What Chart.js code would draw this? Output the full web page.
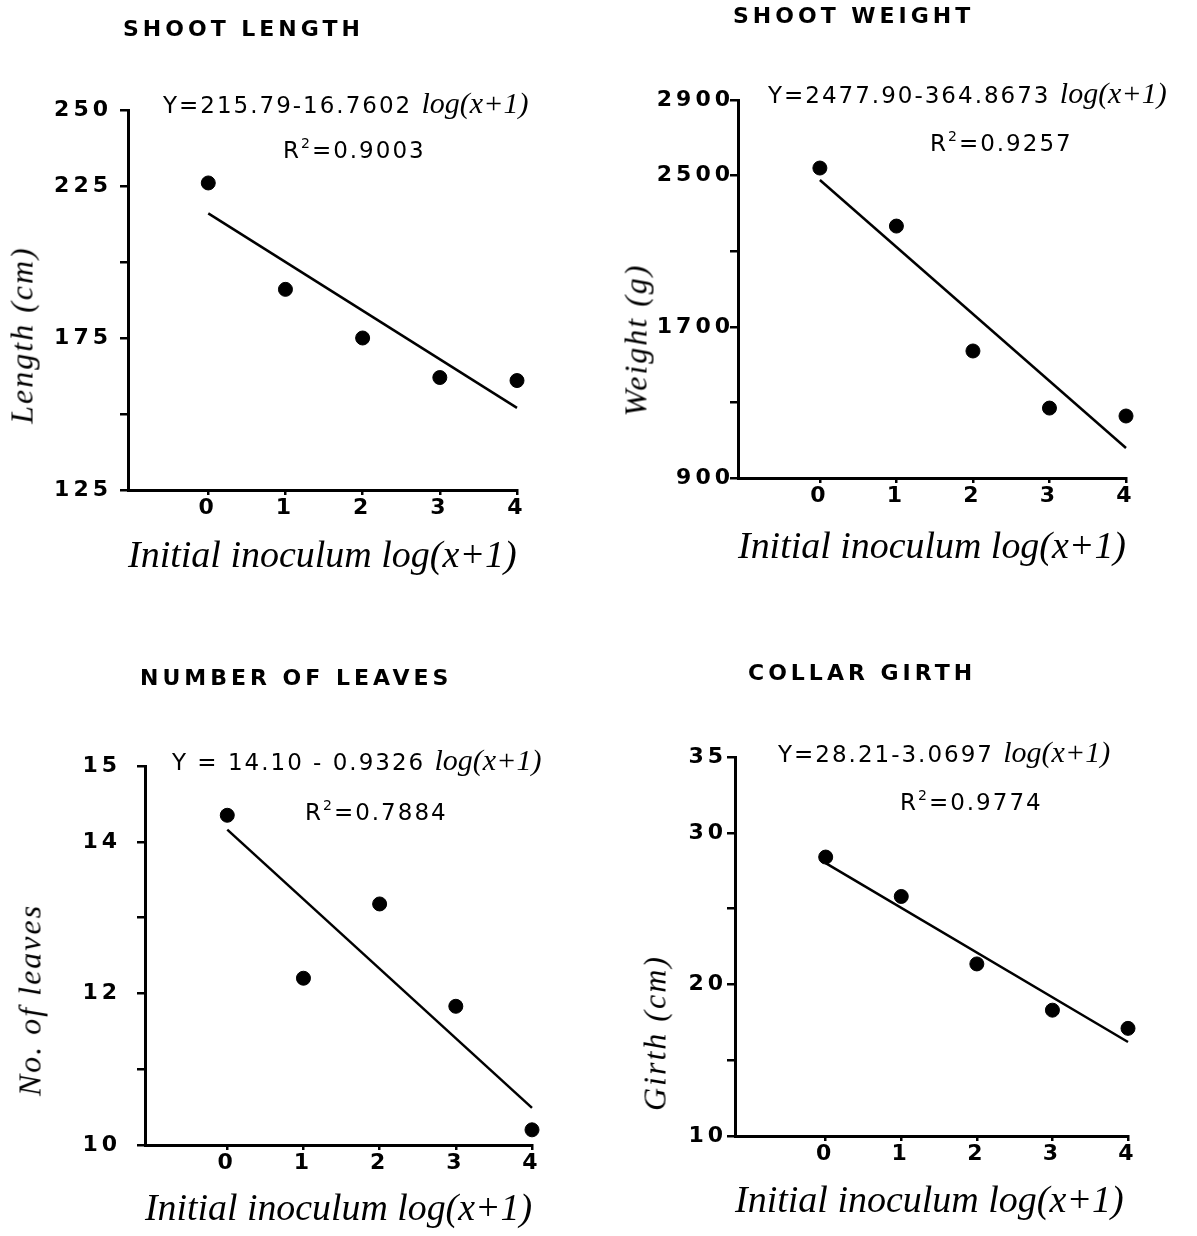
<!DOCTYPE html>
<html>
<head>
<meta charset="utf-8">
<script src="https://cdn.jsdelivr.net/npm/chart.js@4.4.1/dist/chart.umd.min.js"></script>
<style>
html, body { margin: 0; padding: 0; background: #fff; }
#page { position: relative; width: 1197px; height: 1236px; overflow: hidden; }
#page canvas { position: absolute; }
.txt { position: absolute; white-space: nowrap; color: #000; line-height: 1; transform: translateY(-50%); z-index: 2; }
.ttl { font: bold 22px "DejaVu Sans"; letter-spacing: 4px; }
.eq, .r2 { font: 23px "DejaVu Sans"; letter-spacing: 2px; }
.eq i { font: italic 30px "Liberation Serif"; letter-spacing: 0; }
.r2 sup { font-size: 14px; vertical-align: 10px; line-height: 0; }
.ylab { font: italic 32px "Liberation Serif"; letter-spacing: 2px; transform: translate(-50%, -50%) rotate(-90deg); }
</style>
</head>
<body>
<div id="page"></div>
<script>
// --- DATA ---
const xValues = [0, 1, 2, 3, 4];
const fitX = [0, 4];

const lengthValues = [226, 191, 175, 162, 161];
const lengthFit = [216, 152];
const lengthTicks = [125, 175, 225, 250];

const weightValues = [2540, 2233, 1572, 1270, 1228];
const weightFit = [2477, 1059];
const weightTicks = [900, 1700, 2500, 2900];

const leavesValues = [14.35, 12.2, 13.18, 11.83, 10.2];
const leavesFit = [14.16, 10.49];
const leavesTicks = [10, 12, 14, 15];

const girthValues = [28.4, 25.8, 21.35, 18.3, 17.1];
const girthFit = [28.0, 16.2];
const girthTicks = [10, 20, 30, 35];

const titles = ['SHOOT LENGTH', 'SHOOT WEIGHT', 'NUMBER OF LEAVES', 'COLLAR GIRTH'];
const equations = ['Y=215.79-16.7602', 'Y=2477.90-364.8673', 'Y = 14.10 - 0.9326', 'Y=28.21-3.0697'];
const r2Values = ['0.9003', '0.9257', '0.7884', '0.9774'];
const yTitles = ['Length (cm)', 'Weight (g)', 'No. of leaves', 'Girth (cm)'];
const xTitle = 'Initial inoculum log(x+1)';

// --- LAYOUT per panel (page pixels) ---
const panels = [
  { box: [0, 0, 598, 612], area: [128, 110, 517, 490], xMin: -1.04, y: [125, 250, 25],
    values: lengthValues, fit: lengthFit, ticks: lengthTicks, labelGap: 20,
    title: [123, 28], eq: [163, 103], r2: [283, 150], ylab: [22, 335], xTitleY: 557 },
  { box: [598, 0, 599, 612], area: [738, 100, 1126, 478], xMin: -1.07, y: [900, 2900, 400],
    values: weightValues, fit: weightFit, ticks: weightTicks, labelGap: 8,
    title: [733, 15], eq: [768, 93], r2: [930, 143], ylab: [636, 340], xTitleY: 548 },
  { box: [0, 612, 598, 624], area: [145, 766, 532, 1145], xMin: -1.08, y: [10, 15, 1],
    values: leavesValues, fit: leavesFit, ticks: leavesTicks, labelGap: 28,
    title: [140, 677], eq: [172, 760], r2: [305, 812], ylab: [30, 1000], xTitleY: 1210 },
  { box: [598, 612, 599, 624], area: [735, 757, 1128, 1136], xMin: -1.2, y: [10, 35, 5],
    values: girthValues, fit: girthFit, ticks: girthTicks, labelGap: 12,
    title: [748, 672], eq: [778, 752], r2: [900, 802], ylab: [655, 1033], xTitleY: 1202 }
];

const page = document.getElementById('page');
const TITLE_SIZE = 38, TITLE_LH = 1.2;
const SPACING = 4;   // hand-lettered look: wide spacing on tick numbers

// letter spacing only while the tick labels are drawn
const spacingPlugin = {
    id: 'spacing',
    beforeDraw(chart) {
        Object.values(chart.scales).forEach(s => {
            if (s._spaced) return;
            const orig = s.drawLabels.bind(s);
            s.drawLabels = (area) => {
                chart.ctx.letterSpacing = SPACING + 'px';
                orig(area);
                chart.ctx.letterSpacing = '0px';
            };
            s._spaced = true;
        });
    }
};

function addText(cls, x, y, html) {
    const d = document.createElement('div');
    d.className = 'txt ' + cls;
    d.style.left = x + 'px';
    d.style.top = y + 'px';
    d.innerHTML = html;
    page.appendChild(d);
}

function makePanel(p, i) {
    const [x0, y0, w, h] = p.box;
    const [l, t, r, b] = p.area;
    const xAxisH = p.xTitleY - b + TITLE_SIZE * TITLE_LH / 2;

    const cv = document.createElement('canvas');
    cv.width = w; cv.height = h;
    cv.style.left = x0 + 'px'; cv.style.top = y0 + 'px';
    cv.style.width = w + 'px'; cv.style.height = h + 'px';
    page.appendChild(cv);

    const axisGrid = (len) => ({ drawOnChartArea: false, drawTicks: true, tickLength: len, color: '#000', lineWidth: 2.5 });
    const tickFont = { family: 'DejaVu Sans', weight: 'bold', size: 22 };

    new Chart(cv, {
        type: 'scatter',
        plugins: [spacingPlugin],
        data: {
            datasets: [
                { data: xValues.map((x, k) => ({ x, y: p.values[k] })), pointRadius: 7, pointHoverRadius: 7,
                  backgroundColor: '#000', borderColor: '#000', clip: false },
                { type: 'line', data: fitX.map((x, k) => ({ x, y: p.fit[k] })), borderColor: '#000',
                  borderWidth: 2.5, pointRadius: 0, fill: false, clip: false }
            ]
        },
        options: {
            responsive: false, animation: false, events: [],
            layout: { padding: { left: 0, top: t - y0, right: x0 + w - r, bottom: y0 + h - b - xAxisH } },
            plugins: { legend: { display: false }, tooltip: { enabled: false } },
            scales: {
                x: {
                    type: 'linear', min: p.xMin, max: 4,
                    afterBuildTicks: s => { s.ticks = xValues.map(v => ({ value: v })); },
                    afterFit: s => { s.height = xAxisH; },
                    grid: axisGrid(5), border: { color: '#000', width: 3 },
                    ticks: { color: '#000', font: tickFont, padding: 0, maxRotation: 0 },
                    title: { display: true, text: xTitle, align: 'start', color: '#000', padding: 0,
                             font: { family: 'Liberation Serif', style: 'italic', size: TITLE_SIZE, lineHeight: TITLE_LH } }
                },
                y: {
                    type: 'linear', min: p.y[0], max: p.y[1],
                    afterFit: s => { s.width = l - x0; },
                    grid: axisGrid(8), border: { color: '#000', width: 3 },
                    ticks: { stepSize: p.y[2], color: '#000', font: tickFont, padding: p.labelGap - 8 - SPACING,
                             callback: v => p.ticks.includes(v) ? String(v) : '' }
                }
            }
        }
    });

    addText('ttl', p.title[0], p.title[1], titles[i]);
    addText('eq', p.eq[0], p.eq[1], equations[i] + ' <i>log(x+1)</i>');
    addText('r2', p.r2[0], p.r2[1], 'R<sup>2</sup>=' + r2Values[i]);
    addText('ylab', p.ylab[0], p.ylab[1], yTitles[i]);
}

panels.forEach(makePanel);
</script>
</body>
</html>
